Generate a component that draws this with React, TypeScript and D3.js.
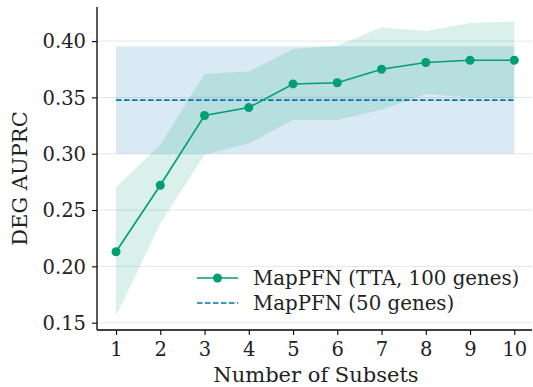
import * as d3 from 'd3';
import React, { useEffect, useRef } from 'react';

// DEG AUPRC vs number of subsets

const subsets = [1, 2, 3, 4, 5, 6, 7, 8, 9, 10];
const ttaMean = [0.213, 0.272, 0.334, 0.341, 0.362, 0.363, 0.375, 0.381, 0.383, 0.383];
const ttaUpper = [0.270, 0.308, 0.371, 0.373, 0.393, 0.396, 0.412, 0.409, 0.416, 0.4175];
const ttaLower = [0.156, 0.238, 0.299, 0.309, 0.330, 0.330, 0.339, 0.353, 0.350, 0.349];
const baseMean = 0.3476;
const baseLower = 0.300;
const baseUpper = 0.3953;
const yTicks = [0.15, 0.20, 0.25, 0.30, 0.35, 0.40];
const legendLabels = ['MapPFN (TTA, 100 genes)', 'MapPFN (50 genes)'];

const green = '#029e73';
const blue = '#0173b2';
const font = 'DejaVu Serif';

export default () => {
    const ref = useRef<any>();

    useEffect(() => {
        const svg = d3.select<any, any>(ref.current);
        svg.selectAll('*').remove();

        const left = 97, right = 532, top = 7, bottom = 330;
        const x = d3.scaleLinear().domain([0.57, 10.4]).range([left, right]);
        const y = d3.scaleLinear().domain([0.1435, 0.4303]).range([bottom, top]);

        // grid
        svg.append('g').selectAll('line').data(yTicks).join('line')
            .attr('x1', left).attr('x2', right)
            .attr('y1', (d) => y(d)).attr('y2', (d) => y(d))
            .attr('stroke', '#e6e6e6').attr('stroke-width', 1);

        // baseline band
        svg.append('rect')
            .attr('x', x(1)).attr('width', x(10) - x(1))
            .attr('y', y(baseUpper)).attr('height', y(baseLower) - y(baseUpper))
            .attr('fill', blue).attr('fill-opacity', 0.15);

        // TTA band
        const area = d3.area<number>()
            .x((d, i) => x(subsets[i]))
            .y0((d, i) => y(ttaLower[i]))
            .y1((d) => y(d));
        svg.append('path').datum(ttaUpper)
            .attr('d', area as any)
            .attr('fill', green).attr('fill-opacity', 0.15);

        // baseline dashed
        svg.append('line')
            .attr('x1', x(1)).attr('x2', x(10))
            .attr('y1', y(baseMean)).attr('y2', y(baseMean))
            .attr('stroke', blue).attr('stroke-width', 1.6)
            .attr('stroke-dasharray', '5.5,2.5');

        // TTA line
        const line = d3.line<number>().x((d, i) => x(subsets[i])).y((d) => y(d));
        svg.append('path').datum(ttaMean)
            .attr('d', line as any)
            .attr('fill', 'none').attr('stroke', green).attr('stroke-width', 1.6);
        svg.append('g').selectAll('circle').data(ttaMean).join('circle')
            .attr('cx', (d, i) => x(subsets[i])).attr('cy', (d) => y(d))
            .attr('r', 4.5).attr('fill', green);

        // axes
        const yAxis = svg.append('g')
            .attr('transform', `translate(${left},0)`)
            .call(d3.axisLeft(y).tickValues(yTicks).tickFormat(d3.format('.2f')).tickSize(5).tickPadding(6) as any);
        const xAxis = svg.append('g')
            .attr('transform', `translate(0,${bottom})`)
            .call(d3.axisBottom(x).tickValues(subsets).tickFormat(d3.format('d')).tickSize(5).tickPadding(7) as any);
        [yAxis, xAxis].forEach((a) => {
            a.select('.domain').attr('stroke', '#000').attr('stroke-width', 1.3);
            a.selectAll('.tick line').attr('stroke', '#000').attr('stroke-width', 1.1);
            a.selectAll('text').attr('font-family', font).attr('font-size', 19.5).attr('fill', '#222');
        });
        yAxis.selectAll('text').attr('dy', '0.34em');
        // matplotlib style spines
        yAxis.select('.domain').attr('d', `M0,${bottom}V${top}`);
        xAxis.select('.domain').attr('d', `M${left},0H${right}`);

        // labels
        svg.append('text')
            .attr('x', 316).attr('y', 382)
            .attr('text-anchor', 'middle')
            .attr('font-family', font).attr('font-size', 21).attr('fill', '#222')
            .text('Number of Subsets');
        svg.append('text')
            .attr('transform', `translate(27,${(top + bottom) / 2 + 10}) rotate(-90)`)
            .attr('text-anchor', 'middle')
            .attr('font-family', font).attr('font-size', 21).attr('fill', '#222')
            .text('DEG AUPRC');

        // legend
        const lg = svg.append('g').attr('transform', 'translate(197,278)');
        lg.append('line').attr('x1', 0).attr('x2', 41).attr('y1', 0).attr('y2', 0)
            .attr('stroke', green).attr('stroke-width', 1.6);
        lg.append('circle').attr('cx', 20.5).attr('cy', 0).attr('r', 4.5).attr('fill', green);
        lg.append('line').attr('x1', 0).attr('x2', 41).attr('y1', 25).attr('y2', 25)
            .attr('stroke', blue).attr('stroke-width', 1.6).attr('stroke-dasharray', '5.5,2.5');
        lg.selectAll('text').data(legendLabels).join('text')
            .attr('x', 56).attr('y', (d, i) => i * 25 + 6.5)
            .attr('font-family', font).attr('font-size', 19.8).attr('fill', '#222')
            .text((d) => d);
    });

    return (
        <svg ref={ref} width={533} height={387} style={{ position: 'absolute', left: 0, top: 0 }} />
    );
};
